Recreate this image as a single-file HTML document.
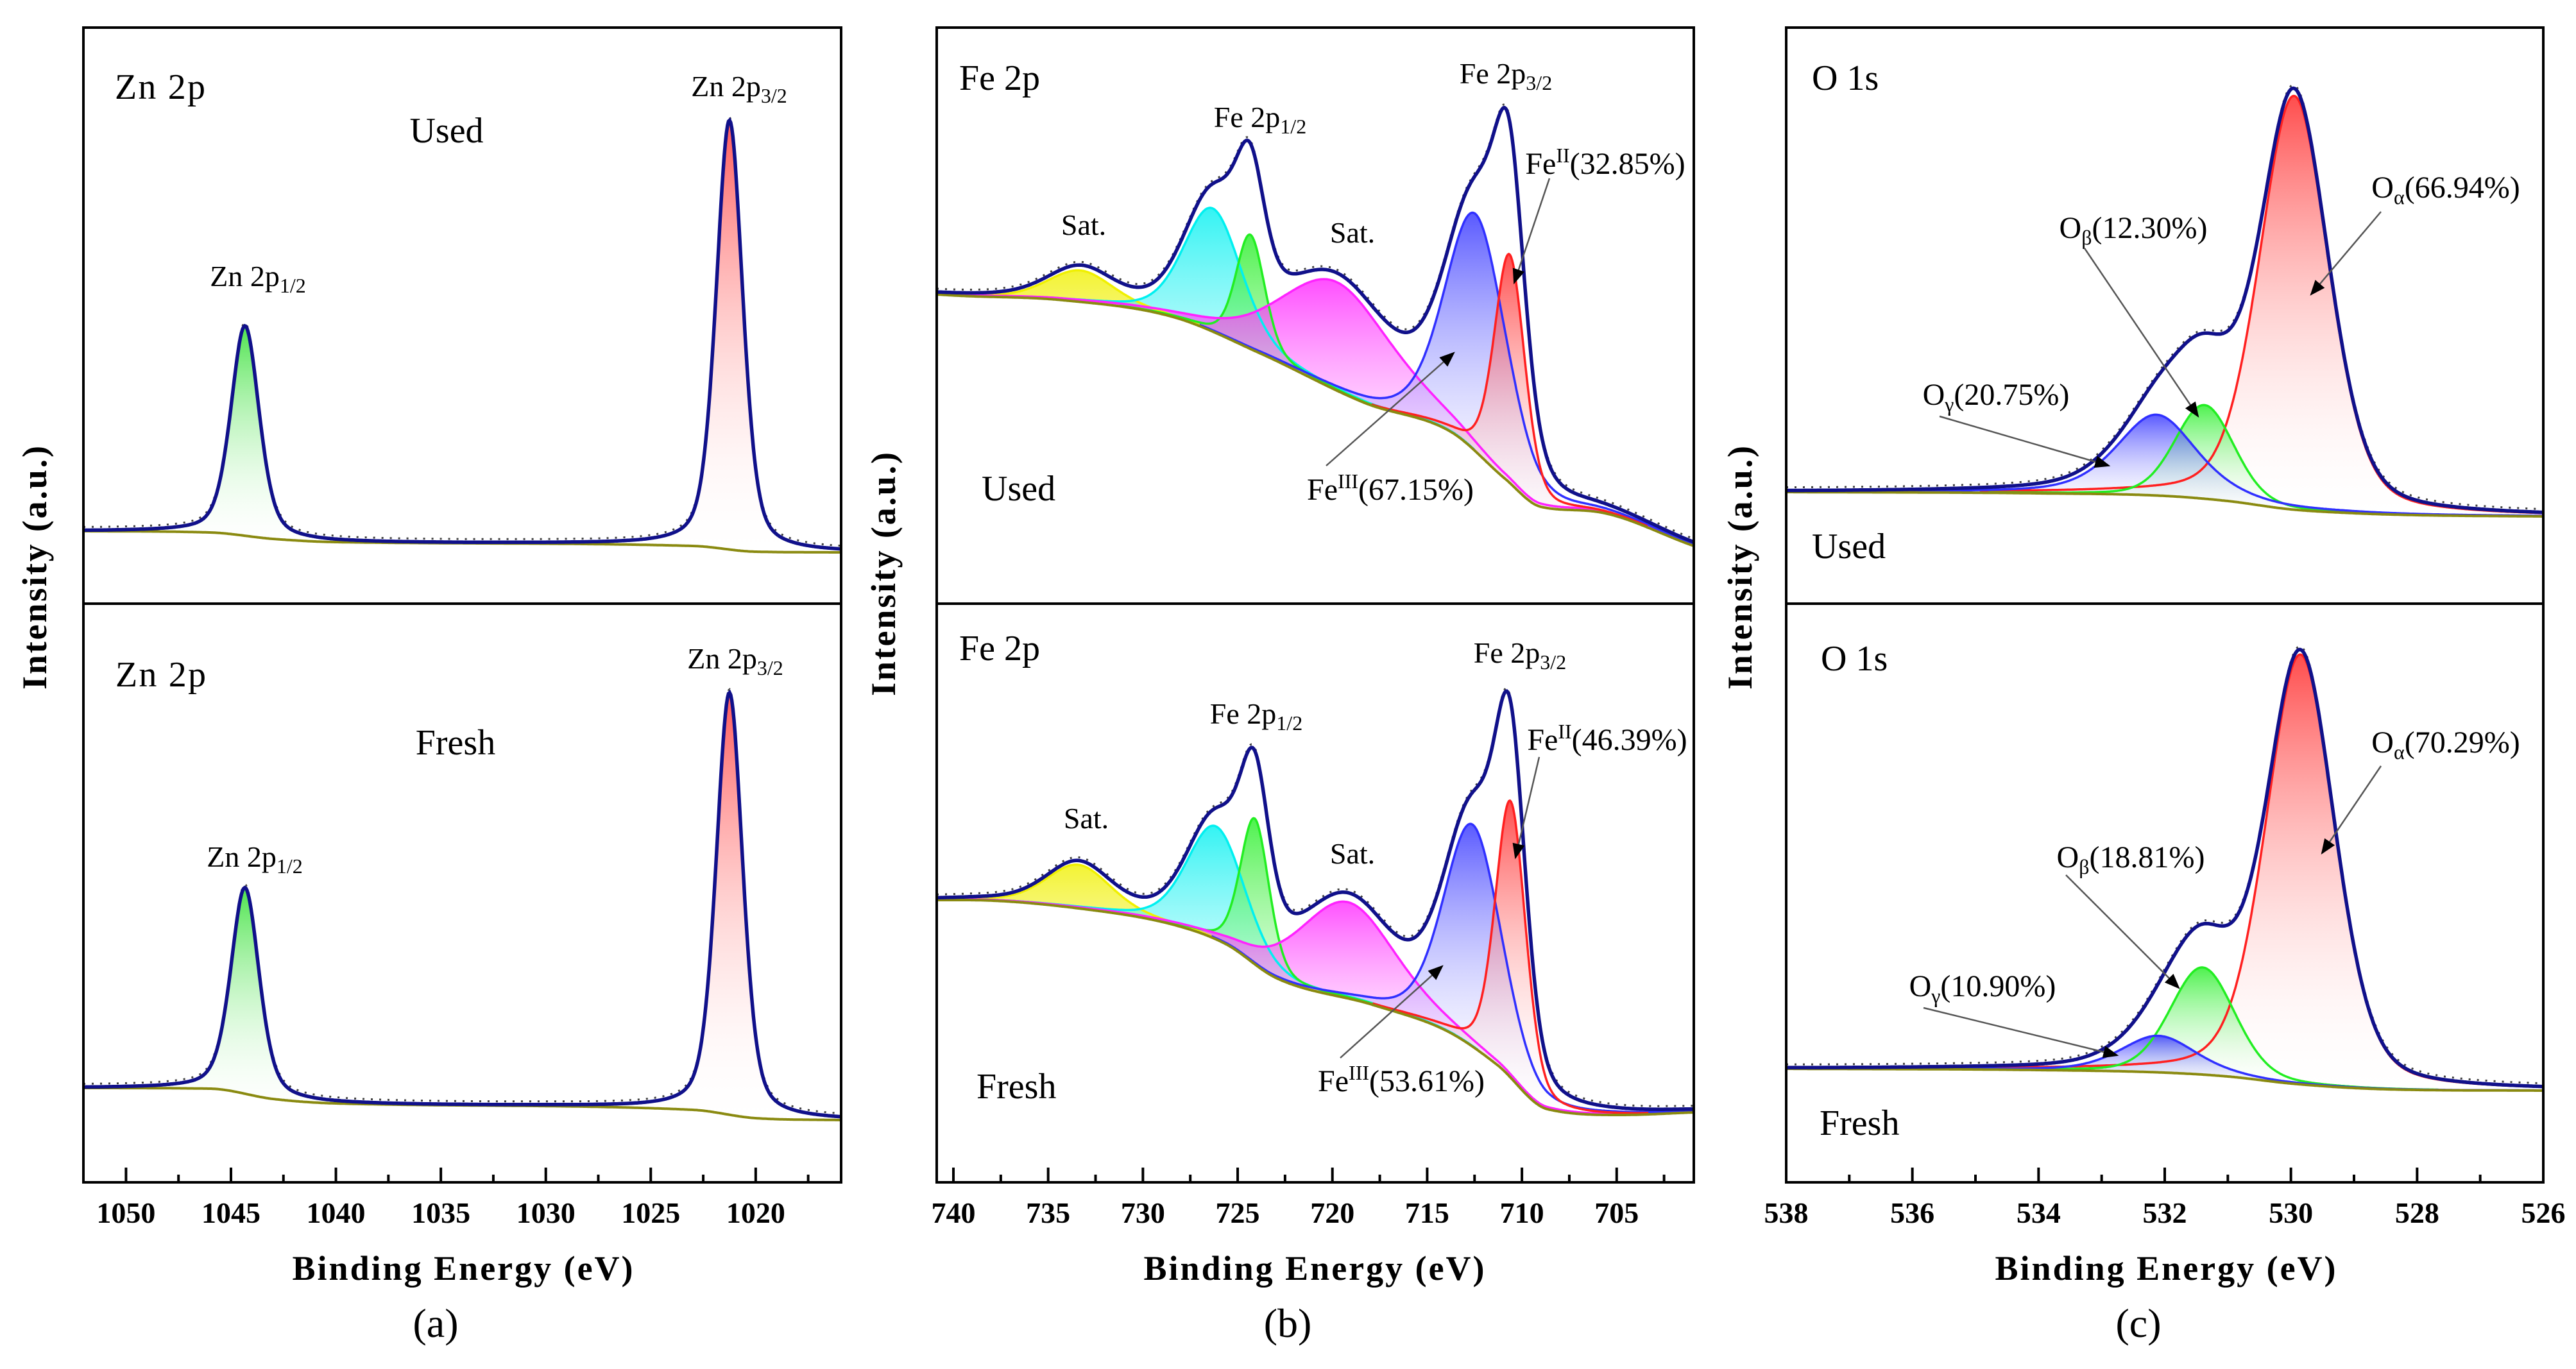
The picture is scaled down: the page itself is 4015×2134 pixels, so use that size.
<!DOCTYPE html>
<html><head><meta charset="utf-8"><title>XPS spectra Zn 2p, Fe 2p, O 1s</title>
<style>
html,body{margin:0;padding:0;background:#fff;}
svg{display:block;font-family:"Liberation Serif",serif;}
</style></head>
<body>
<svg id="fig" xmlns="http://www.w3.org/2000/svg" width="4015" height="2134" viewBox="0 0 4015 2134">
<rect x="0" y="0" width="4015" height="2134" fill="#fff"/>
<defs id="defs"></defs>
<g id="plots"></g>
<g id="annot" fill="#000">
  <text x="179" y="154" font-size="56" textLength="141">Zn 2p</text>
  <text x="696" y="222" font-size="56" text-anchor="middle">Used</text>
  <text x="1152" y="150" font-size="46" text-anchor="middle">Zn 2p<tspan font-size="32" dy="10">3/2</tspan></text>
  <text x="402" y="446" font-size="46" text-anchor="middle">Zn 2p<tspan font-size="32" dy="10">1/2</tspan></text>
  <text x="180" y="1070" font-size="56" textLength="141">Zn 2p</text>
  <text x="710" y="1176" font-size="56" text-anchor="middle">Fresh</text>
  <text x="1146" y="1042" font-size="46" text-anchor="middle">Zn 2p<tspan font-size="32" dy="10">3/2</tspan></text>
  <text x="397" y="1351" font-size="46" text-anchor="middle">Zn 2p<tspan font-size="32" dy="10">1/2</tspan></text>
  <text x="1495" y="140" font-size="56">Fe 2p</text>
  <text x="1964" y="198" font-size="46" text-anchor="middle">Fe 2p<tspan font-size="32" dy="10">1/2</tspan></text>
  <text x="2347" y="130" font-size="46" text-anchor="middle">Fe 2p<tspan font-size="32" dy="10">3/2</tspan></text>
  <text x="1689" y="366" font-size="46" text-anchor="middle">Sat.</text>
  <text x="2108" y="378" font-size="46" text-anchor="middle">Sat.</text>
  <text x="2502" y="271" font-size="48" text-anchor="middle">Fe<tspan font-size="32" dy="-18">II</tspan><tspan dy="18">(32.85%)</tspan></text>
  <text x="1530" y="780" font-size="56">Used</text>
  <text x="2167" y="779" font-size="48" text-anchor="middle">Fe<tspan font-size="32" dy="-18">III</tspan><tspan dy="18">(67.15%)</tspan></text>
  <text x="1495" y="1029" font-size="56">Fe 2p</text>
  <text x="1958" y="1128" font-size="46" text-anchor="middle">Fe 2p<tspan font-size="32" dy="10">1/2</tspan></text>
  <text x="2369" y="1033" font-size="46" text-anchor="middle">Fe 2p<tspan font-size="32" dy="10">3/2</tspan></text>
  <text x="1693" y="1291" font-size="46" text-anchor="middle">Sat.</text>
  <text x="2108" y="1346" font-size="46" text-anchor="middle">Sat.</text>
  <text x="2505" y="1169" font-size="48" text-anchor="middle">Fe<tspan font-size="32" dy="-18">II</tspan><tspan dy="18">(46.39%)</tspan></text>
  <text x="1522" y="1712" font-size="56">Fresh</text>
  <text x="2184" y="1701" font-size="48" text-anchor="middle">Fe<tspan font-size="32" dy="-18">III</tspan><tspan dy="18">(53.61%)</tspan></text>
  <text x="2824" y="140" font-size="56">O 1s</text>
  <text x="3812" y="308" font-size="48" text-anchor="middle">O<tspan font-size="32" dy="10">α</tspan><tspan dy="-10">(66.94%)</tspan></text>
  <text x="3325" y="371" font-size="48" text-anchor="middle">O<tspan font-size="32" dy="10">β</tspan><tspan dy="-10">(12.30%)</tspan></text>
  <text x="3111" y="631" font-size="48" text-anchor="middle">O<tspan font-size="32" dy="10">γ</tspan><tspan dy="-10">(20.75%)</tspan></text>
  <text x="2824" y="870" font-size="56">Used</text>
  <text x="2838" y="1045" font-size="56">O 1s</text>
  <text x="3812" y="1173" font-size="48" text-anchor="middle">O<tspan font-size="32" dy="10">α</tspan><tspan dy="-10">(70.29%)</tspan></text>
  <text x="3321" y="1352" font-size="48" text-anchor="middle">O<tspan font-size="32" dy="10">β</tspan><tspan dy="-10">(18.81%)</tspan></text>
  <text x="3090" y="1553" font-size="48" text-anchor="middle">O<tspan font-size="32" dy="10">γ</tspan><tspan dy="-10">(10.90%)</tspan></text>
  <text x="2836" y="1769" font-size="56">Fresh</text>
  <text x="721" y="1995" font-size="54" font-weight="bold" text-anchor="middle" textLength="531">Binding Energy (eV)</text>
  <text x="2048" y="1995" font-size="54" font-weight="bold" text-anchor="middle" textLength="531">Binding Energy (eV)</text>
  <text x="3375" y="1995" font-size="54" font-weight="bold" text-anchor="middle" textLength="531">Binding Energy (eV)</text>
  <text x="679" y="2084" font-size="64" text-anchor="middle">(a)</text>
  <text x="2007" y="2084" font-size="64" text-anchor="middle">(b)</text>
  <text x="3333" y="2084" font-size="64" text-anchor="middle">(c)</text>
  <text transform="translate(72,885) rotate(-90)" font-size="54" font-weight="bold" text-anchor="middle" textLength="380">Intensity (a.u.)</text>
  <text transform="translate(1395,895) rotate(-90)" font-size="54" font-weight="bold" text-anchor="middle" textLength="380">Intensity (a.u.)</text>
  <text transform="translate(2730,885) rotate(-90)" font-size="54" font-weight="bold" text-anchor="middle" textLength="380">Intensity (a.u.)</text>
</g>
</svg>
<script>
// ---------- Data (binding energy eV, intensity in arbitrary units) ----------
const aUsedBgE = [1052.03, 1046, 1043, 1040, 1023, 1020, 1015.93];
const aUsedBgI = [113, 111, 101, 96, 90, 81, 80];
const aUsedPeakE = [1044.33, 1021.25];
const aUsedPeakH = [327, 669];
const aUsedPeakW = [1.6, 1.5];
const aUsedPeakEta = [0.4, 0.4];
const aFreshBgE = [1052.03, 1046, 1043, 1040, 1023, 1020, 1015.93];
const aFreshBgI = [147, 146, 130, 123, 113, 100, 97];
const aFreshPeakE = [1044.33, 1021.25];
const aFreshPeakH = [321, 658];
const aFreshPeakW = [1.6, 1.5];
const aFreshPeakEta = [0.4, 0.4];
const bUsedBgE = [740.88, 739.7, 734.2, 728.3, 723.8, 718.3, 713.7, 710.9, 709.0, 706.25, 700.93];
const bUsedBgI = [482, 480, 473, 446, 390, 313, 267, 195, 151, 144, 90];
const bUsedPeakE = [733.3, 726.32, 724.33, 719.76, 712.44, 710.65];
const bUsedPeakH = [49, 192, 178, 169, 370, 356];
const bUsedPeakW = [4.0, 3.6, 1.8, 7.0, 3.8, 1.9];
const bUsedPeakEta = [0.3, 0.3, 0.3, 0.3, 0.3, 0.3];
const bFreshBgE = [740.88, 739.4, 733.4, 728.2, 725.6, 723.0, 717.8, 713.9, 711.3, 708.65, 704.8, 700.93];
const bFreshBgI = [440, 440, 427, 400, 371, 319, 276, 235, 183, 114, 105, 109];
const bFreshPeakE = [733.4, 726.15, 724.1, 719.2, 712.6, 710.6];
const bFreshPeakH = [68, 176, 227, 150, 346, 431];
const bFreshPeakW = [4.0, 3.6, 1.8, 6.0, 3.6, 1.9];
const bFreshPeakEta = [0.3, 0.3, 0.3, 0.3, 0.3, 0.3];
const cUsedBgE = [538, 534, 532, 531, 530, 529, 528, 526];
const cUsedBgI = [174, 172, 168, 160, 147, 141, 138, 136];
const cUsedPeakE = [529.95, 531.37, 532.13];
const cUsedPeakH = [645, 146, 126];
const cUsedPeakW = [1.3, 1.1, 1.5];
const cUsedPeakEta = [0.3, 0.2, 0.5];
const cFreshBgE = [538, 534, 532, 531, 530, 529, 528, 526];
const cFreshBgI = [177, 175, 171, 165, 154, 147, 144, 143];
const cFreshPeakE = [529.85, 531.4, 532.1];
const cFreshPeakH = [670, 167, 57];
const cFreshPeakW = [1.3, 1.2, 1.4];
const cFreshPeakEta = [0.3, 0.2, 0.4];
const aMajorTicks = [1050, 1045, 1040, 1035, 1030, 1025, 1020];
const aTickLabels = ["1050", "1045", "1040", "1035", "1030", "1025", "1020"];
const aMinorTicks = [1047.5, 1042.5, 1037.5, 1032.5, 1027.5, 1022.5, 1017.5];
const bMajorTicks = [740, 735, 730, 725, 720, 715, 710, 705];
const bTickLabels = ["740", "735", "730", "725", "720", "715", "710", "705"];
const bMinorTicks = [737.5, 732.5, 727.5, 722.5, 717.5, 712.5, 707.5, 702.5];
const cMajorTicks = [538, 536, 534, 532, 530, 528, 526];
const cTickLabels = ["538", "536", "534", "532", "530", "528", "526"];
const cMinorTicks = [537, 535, 533, 531, 529, 527];

const NS = "http://www.w3.org/2000/svg";
const defs = document.getElementById("defs");
const plots = document.getElementById("plots");
const SUBS = [{y0: 43, y1: 941}, {y0: 941, y1: 1843}];
const PANELS = {
  a: {x0: 130, x1: 1311, E0: 1052.03, E1: 1015.93, major: aMajorTicks, labels: aTickLabels, minor: aMinorTicks,
      colors: ["#22dd22", "#ff3030"]},
  b: {x0: 1460, x1: 2640, E0: 740.88, E1: 700.93, major: bMajorTicks, labels: bTickLabels, minor: bMinorTicks,
      colors: ["#f0f000", "#00f0f0", "#22ee22", "#ff22ff", "#3030ff", "#ff2020"]},
  c: {x0: 2784, x1: 3964, E0: 538, E1: 526, major: cMajorTicks, labels: cTickLabels, minor: cMinorTicks,
      colors: ["#ff2020", "#22ee22", "#3030ff"]}
};
const SPECTRA = [
  {p: "a", s: 0, name: "zn-used", bgE: aUsedBgE, bgI: aUsedBgI, pE: aUsedPeakE, pH: aUsedPeakH, pW: aUsedPeakW, pEta: aUsedPeakEta},
  {p: "a", s: 1, name: "zn-fresh", bgE: aFreshBgE, bgI: aFreshBgI, pE: aFreshPeakE, pH: aFreshPeakH, pW: aFreshPeakW, pEta: aFreshPeakEta},
  {p: "b", s: 0, name: "fe-used", bgE: bUsedBgE, bgI: bUsedBgI, pE: bUsedPeakE, pH: bUsedPeakH, pW: bUsedPeakW, pEta: bUsedPeakEta},
  {p: "b", s: 1, name: "fe-fresh", bgE: bFreshBgE, bgI: bFreshBgI, pE: bFreshPeakE, pH: bFreshPeakH, pW: bFreshPeakW, pEta: bFreshPeakEta},
  {p: "c", s: 0, name: "o-used", bgE: cUsedBgE, bgI: cUsedBgI, pE: cUsedPeakE, pH: cUsedPeakH, pW: cUsedPeakW, pEta: cUsedPeakEta},
  {p: "c", s: 1, name: "o-fresh", bgE: cFreshBgE, bgI: cFreshBgI, pE: cFreshPeakE, pH: cFreshPeakH, pW: cFreshPeakW, pEta: cFreshPeakEta}
];

function xScale(P) { return E => P.x0 + (P.E0 - E) / (P.E0 - P.E1) * (P.x1 - P.x0); }
function yScale(S) { return I => S.y1 - I; }

function bgAt(E, kE, kI) {
  const n = kE.length;
  const xs = kE.map(v => -v), ys = kI;
  const x = -E;
  if (x <= xs[0]) return ys[0];
  if (x >= xs[n - 1]) return ys[n - 1];
  const d = [], m = [];
  for (let i = 0; i < n - 1; i++) d.push((ys[i + 1] - ys[i]) / (xs[i + 1] - xs[i]));
  m.push(d[0]);
  for (let i = 1; i < n - 1; i++) m.push(d[i - 1] * d[i] <= 0 ? 0 : (d[i - 1] + d[i]) / 2);
  m.push(d[n - 2]);
  for (let i = 0; i < n - 1; i++) {
    if (d[i] === 0) { m[i] = 0; m[i + 1] = 0; continue; }
    const a = m[i] / d[i], b = m[i + 1] / d[i], s = a * a + b * b;
    if (s > 9) { const t = 3 / Math.sqrt(s); m[i] = t * a * d[i]; m[i + 1] = t * b * d[i]; }
  }
  let i = 0;
  while (i < n - 2 && x > xs[i + 1]) i++;
  const h = xs[i + 1] - xs[i], t = (x - xs[i]) / h;
  const t2 = t * t, t3 = t2 * t;
  return (2 * t3 - 3 * t2 + 1) * ys[i] + (t3 - 2 * t2 + t) * h * m[i] + (-2 * t3 + 3 * t2) * ys[i + 1] + (t3 - t2) * h * m[i + 1];
}
function pv(E, c, h, w, eta) {
  const u = (E - c) / w;
  return h * ((1 - eta) * Math.exp(-4 * Math.LN2 * u * u) + eta / (1 + 4 * u * u));
}
function mk(tag, attrs, parent) {
  const el = document.createElementNS(NS, tag);
  for (const k in attrs) el.setAttribute(k, attrs[k]);
  (parent || plots).appendChild(el);
  return el;
}
function pathD(pts) {
  return pts.map((p, i) => (i ? "L" : "M") + p[0].toFixed(1) + " " + p[1].toFixed(1)).join("");
}

const gradColors = {};
Object.values(PANELS).forEach(P => P.colors.forEach(c => gradColors[c] = 1));
Object.keys(gradColors).forEach(c => {
  const g = mk("linearGradient", {id: "grad" + c.slice(1), x1: "0", y1: "0", x2: "0", y2: "1"}, defs);
  mk("stop", {offset: "0", "stop-color": c, "stop-opacity": "0.8"}, g);
  mk("stop", {offset: "1", "stop-color": "#ffffff", "stop-opacity": "0.05"}, g);
});

Object.keys(PANELS).forEach(k => {
  const P = PANELS[k];
  SUBS.forEach((S, si) => {
    const cp = mk("clipPath", {id: "clip" + k + si}, defs);
    mk("rect", {x: P.x0, y: S.y0, width: P.x1 - P.x0, height: S.y1 - S.y0}, cp);
  });
});

const N = 700;
SPECTRA.forEach(sp => {
  const P = PANELS[sp.p], S = SUBS[sp.s];
  const X = xScale(P), Y = yScale(S);
  const g = mk("g", {"clip-path": "url(#clip" + sp.p + sp.s + ")"});
  
  
  const Es = [];
  for (let i = 0; i <= N; i++) Es.push(P.E0 + (P.E1 - P.E0) * i / N);
  const bg = Es.map(E => bgAt(E, sp.bgE, sp.bgI));
  const comps = sp.pE.map((c, j) => Es.map(E => pv(E, c, sp.pH[j], sp.pW[j], sp.pEta[j])));
  comps.forEach((cv, j) => {
    const col = P.colors[j];
    const top = Es.map((E, i) => [X(E), Y(bg[i] + cv[i])]);
    const bot = Es.map((E, i) => [X(E), Y(bg[i])]).reverse();
    const f = mk("path", {d: pathD(top.concat(bot)) + "Z", fill: "url(#grad" + col.slice(1) + ")", stroke: "none"}, g);
    
    
  });
  comps.forEach((cv, j) => {
    const pts = [];
    Es.forEach((E, i) => { if (cv[i] > 0.005 * sp.pH[j]) pts.push([X(E), Y(bg[i] + cv[i])]); });
    const l = mk("path", {d: pathD(pts), fill: "none", stroke: P.colors[j], "stroke-width": "3.5"}, g);
    
    
  });
  const bl = mk("path", {d: pathD(Es.map((E, i) => [X(E), Y(bg[i])])), fill: "none", stroke: "#8a8a10", "stroke-width": "4"}, g);
  
  
  const env = Es.map((E, i) => bg[i] + comps.reduce((s, cv) => s + cv[i], 0));
  const dots = mk("path", {d: pathD(Es.map((E, i) => [X(E), Y(env[i]) - 5])), fill: "none", stroke: "#000", "stroke-width": "3", "stroke-dasharray": "3 10", opacity: "0.75"}, g);
  
  
  const el = mk("path", {d: pathD(Es.map((E, i) => [X(E), Y(env[i])])), fill: "none", stroke: "#10108a", "stroke-width": "5.5"}, g);
  
  
});

Object.keys(PANELS).forEach(k => {
  const P = PANELS[k];
  const X = xScale(P);
  const fr = mk("rect", {x: P.x0, y: SUBS[0].y0, width: P.x1 - P.x0, height: SUBS[1].y1 - SUBS[0].y0, fill: "none", stroke: "#000", "stroke-width": "4"});
  
  
  const dv = mk("line", {x1: P.x0, x2: P.x1, y1: SUBS[0].y1, y2: SUBS[0].y1, stroke: "#000", "stroke-width": "4"});
  
  
  const yb = SUBS[1].y1;
  P.major.forEach((E, i) => {
    const t = mk("line", {x1: X(E), x2: X(E), y1: yb, y2: yb - 23, stroke: "#000", "stroke-width": "4"});
    
    
    const lb = mk("text", {x: X(E), y: 1906, "font-size": "46", "font-weight": "bold", "text-anchor": "middle"});
    
    
    lb.textContent = P.labels[i];
  });
  P.minor.forEach(E => {
    const t = mk("line", {x1: X(E), x2: X(E), y1: yb, y2: yb - 12, stroke: "#000", "stroke-width": "4"});
    
    
  });
});

const marker = mk("marker", {id: "arrowhead", viewBox: "0 0 10 10", refX: "9", refY: "5", markerUnits: "userSpaceOnUse", orient: "auto"}, defs);
marker.setAttribute("markerWidth", "34");
marker.setAttribute("markerHeight", "24");
mk("path", {d: "M0 1 L10 5 L0 9 Z", fill: "#000"}, marker);
const ARROWS = [
  ["fe-used-fe3-arrow", 2067, 726, 2266, 550],
  ["fe-used-fe2-arrow", 2415, 278, 2360, 441],
  ["fe-fresh-fe3-arrow", 2089, 1649, 2248, 1506],
  ["fe-fresh-fe2-arrow", 2399, 1180, 2362, 1337],
  ["o-used-alpha-arrow", 3711, 330, 3602, 459],
  ["o-used-beta-arrow", 3249, 387, 3426, 649],
  ["o-used-gamma-arrow", 3023, 649, 3287, 726],
  ["o-fresh-alpha-arrow", 3711, 1194, 3619, 1330],
  ["o-fresh-beta-arrow", 3220, 1364, 3396, 1540],
  ["o-fresh-gamma-arrow", 2998, 1571, 3300, 1645]
];
const annot = document.getElementById("annot");
ARROWS.forEach(a => {
  const l = mk("line", {x1: a[1], y1: a[2], x2: a[3], y2: a[4], stroke: "#555", "stroke-width": "2.5", "marker-end": "url(#arrowhead)"}, annot);
  
  
});
</script>
</body></html>
